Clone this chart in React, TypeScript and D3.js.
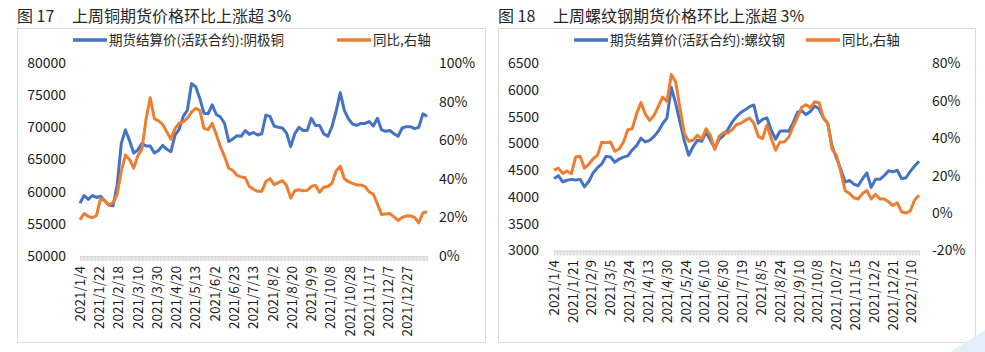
import * as d3 from 'd3';
import { useEffect, useRef } from 'react';

// x axis labels (category axis of trading days)
const copperTickLabels = [
    '2021/1/4', '2021/1/22', '2021/2/18', '2021/3/10', '2021/3/30', '2021/4/20',
    '2021/5/13', '2021/6/2', '2021/6/23', '2021/7/13', '2021/8/2', '2021/8/20',
    '2021/9/9', '2021/10/8', '2021/10/28', '2021/11/17', '2021/12/7', '2021/12/27'
];
const rebarTickLabels = [
    '2021/1/4', '2021/1/21', '2021/2/9', '2021/3/5', '2021/3/24', '2021/4/13',
    '2021/4/30', '2021/5/24', '2021/6/10', '2021/6/30', '2021/7/19', '2021/8/5',
    '2021/8/24', '2021/9/10', '2021/10/8', '2021/10/27', '2021/11/15', '2021/12/2',
    '2021/12/21', '2022/1/10'
];

// readings every 3 trading days, from 2021/1/4
const copperPrice = [
    58200, 59400, 58800, 59400, 59100, 59300, 58600, 57900, 57800, 61000,
    67500, 69600, 67900, 66000, 66500, 67500, 67100, 67100, 66000, 66400,
    67200, 66600, 66200, 68800, 69700, 71700, 72700, 76800, 76300, 74500,
    72200, 72100, 73500, 72000, 71600, 70600, 67800, 68200, 68700, 68600,
    69500, 68900, 69200, 68800, 69000, 71900, 71700, 70200, 70000, 69900,
    69100, 67000, 69000, 70000, 69500, 69500, 71400, 70300, 70300, 69000,
    68600, 70100, 72500, 75400, 72600, 71300, 70500, 70300, 70600, 70600,
    70900, 70200, 71400, 69600, 69400, 69500, 69000, 68600, 69900, 70100,
    70100, 69800, 70000, 72100, 71700
];
const copperYoY = [
    18.7, 22.0, 20.5, 19.8, 21.0, 30.0, 28.5, 26.5, 27.5, 32.0,
    44.0, 52.3, 50.0, 45.5, 52.0, 55.5, 71.0, 82.0, 71.2, 70.0,
    68.2, 64.3, 60.5, 66.0, 68.8, 69.5, 71.5, 74.5, 76.5, 75.5,
    66.2, 65.5, 68.8, 63.0, 56.5, 51.5, 45.5, 44.3, 41.8, 41.0,
    40.5, 36.0, 34.6, 33.5, 33.5, 38.6, 40.1, 37.0, 38.0, 39.0,
    36.5, 30.0, 33.8, 34.3, 33.8, 34.0, 36.0, 36.6, 33.0, 35.6,
    36.0, 37.7, 44.0, 46.5, 40.0, 38.5, 37.6, 36.8, 36.8, 35.9,
    33.2, 32.0, 27.0, 21.5, 21.8, 22.0, 20.3, 18.4, 20.0, 20.7,
    20.8, 20.0, 17.2, 22.3, 22.9
];
const rebarPrice = [
    4344, 4400, 4285, 4313, 4330, 4320, 4330, 4190, 4290, 4450,
    4550, 4620, 4760, 4750, 4650, 4710, 4745, 4770, 4880, 4960,
    5100, 5030, 5060, 5130, 5230, 5370, 5480, 6050, 5750, 5400,
    5050, 4780, 4940, 5060, 5040, 5210, 5060, 4910, 5080, 5150,
    5260, 5400, 5500, 5580, 5630, 5690, 5720, 5380, 5450, 5480,
    5250, 5080, 5230, 5240, 5230, 5380, 5580, 5610, 5540, 5600,
    5700, 5650, 5480, 5380, 4950, 4730, 4520, 4280, 4310, 4240,
    4210, 4340, 4450, 4180, 4330, 4330, 4400, 4490, 4470, 4500,
    4340, 4360, 4480, 4580, 4670
];
const rebarYoY = [
    22.9, 24.0, 21.2, 22.5, 21.0, 30.0, 30.3, 24.0, 26.0, 29.0,
    30.8, 37.8, 37.6, 38.0, 33.0, 34.2, 38.0, 44.5, 45.0, 53.0,
    59.0, 53.0, 49.5, 52.0, 57.0, 62.0, 59.6, 74.0, 70.0, 56.0,
    42.5, 38.4, 38.9, 41.5, 39.5, 45.0, 41.5, 34.0, 41.0, 43.0,
    42.8, 44.5, 47.3, 48.0, 49.5, 50.8, 48.0, 41.0, 39.8, 47.0,
    39.8, 33.6, 38.0, 38.0, 40.5, 46.0, 51.0, 56.5, 57.9, 56.3,
    59.5, 59.0, 50.8, 48.0, 34.2, 30.8, 22.0, 12.0, 10.5, 8.2,
    7.5, 10.4, 12.0, 7.5, 10.0, 7.5, 7.5, 6.0, 4.0, 5.5,
    0.6, 0.0, 1.2, 7.0, 9.5
];

const SAMPLE_STEP = 3;
const LAST_INDEX = 252;
const BLUE = '#4472C4';
const ORANGE = '#ED7D31';
const FONT = "'Noto Sans CJK SC', 'Noto Sans', sans-serif";

interface PanelConfig {
    figNo: string;
    title: string;
    priceName: string;
    price: number[];
    yoy: number[];
    tickLabels: string[];
    labelStep: number;
    priceDomain: [number, number];
    priceTicks: number[];
    pctDomain: [number, number];
    pctTicks: number[];
    box: { x: number; y: number; w: number; h: number };
    plot: { x0: number; x1: number; yTop: number; yBottom: number };
    leftLabelX: number;
    rightLabelX: number;
    xLabelTop: number;
    titleX: number;
    legend: { blue: number; orange: number };
}

const panels: PanelConfig[] = [
    {
        figNo: '图 17',
        title: '上周铜期货价格环比上涨超 3%',
        priceName: '期货结算价(活跃合约):阴极铜',
        price: copperPrice,
        yoy: copperYoY,
        tickLabels: copperTickLabels,
        labelStep: 14,
        priceDomain: [50000, 80000],
        priceTicks: [50000, 55000, 60000, 65000, 70000, 75000, 80000],
        pctDomain: [0, 100],
        pctTicks: [0, 20, 40, 60, 80, 100],
        box: { x: 17, y: 28, w: 468, h: 314 },
        plot: { x0: 80, x1: 427, yTop: 63, yBottom: 256 },
        leftLabelX: 66,
        rightLabelX: 439,
        xLabelTop: 266,
        titleX: 72,
        legend: { blue: 73, orange: 337 }
    },
    {
        figNo: '图 18',
        title: '上周螺纹钢期货价格环比上涨超 3%',
        priceName: '期货结算价(活跃合约):螺纹钢',
        price: rebarPrice,
        yoy: rebarYoY,
        tickLabels: rebarTickLabels,
        labelStep: 13,
        priceDomain: [3000, 6500],
        priceTicks: [3000, 3500, 4000, 4500, 5000, 5500, 6000, 6500],
        pctDomain: [-20, 80],
        pctTicks: [-20, 0, 20, 40, 60, 80],
        box: { x: 498, y: 28, w: 477, h: 314 },
        plot: { x0: 554, x1: 919, yTop: 63.3, yBottom: 250.5 },
        leftLabelX: 539,
        rightLabelX: 932,
        xLabelTop: 260,
        titleX: 553,
        legend: { blue: 574, orange: 806 }
    }
];

function drawPanel(root: d3.Selection<SVGGElement, unknown, null, undefined>, c: PanelConfig) {
    const g = root.append('g');

    // frame
    g.append('rect')
        .attr('x', c.box.x + 0.5)
        .attr('y', c.box.y + 0.5)
        .attr('width', c.box.w)
        .attr('height', c.box.h)
        .attr('fill', '#fff')
        .attr('stroke', '#d9d9d9');

    // title
    g.append('text')
        .attr('x', c.box.x)
        .attr('y', 16)
        .attr('dy', '0.35em')
        .style('font-size', '16px')
        .attr('fill', '#262626')
        .text(c.figNo);
    g.append('text')
        .attr('x', c.titleX)
        .attr('y', 16)
        .attr('dy', '0.35em')
        .style('font-size', '16px')
        .attr('fill', '#262626')
        .text(c.title);

    // Scales
    const x = d3.scaleLinear().domain([0, LAST_INDEX]).range([c.plot.x0, c.plot.x1]);
    const yL = d3.scaleLinear().domain(c.priceDomain).range([c.plot.yBottom, c.plot.yTop]);
    const yR = d3.scaleLinear().domain(c.pctDomain).range([c.plot.yBottom, c.plot.yTop]);

    // left axis labels
    g.append('g')
        .selectAll('text')
        .data(c.priceTicks)
        .enter()
        .append('text')
        .attr('x', c.leftLabelX)
        .attr('y', (d) => yL(d))
        .attr('dy', '0.35em')
        .attr('text-anchor', 'end')
        .style('font-size', '14px')
        .attr('fill', '#1a1a1a')
        .text((d) => String(d));

    // right axis labels
    g.append('g')
        .selectAll('text')
        .data(c.pctTicks)
        .enter()
        .append('text')
        .attr('x', c.rightLabelX)
        .attr('y', (d) => yR(d))
        .attr('dy', '0.35em')
        .style('font-size', '14px')
        .attr('fill', '#1a1a1a')
        .text((d) => `${d}%`);

    // category axis: one tick per trading day -> grey band
    const axis = g.append('g')
        .attr('transform', `translate(0,${c.plot.yBottom})`)
        .call(
            d3.axisBottom(x)
                .tickValues(d3.range(0, LAST_INDEX + 1))
                .tickSize(5)
                .tickSizeOuter(0)
                .tickFormat(() => '')
        );
    axis.selectAll('line').attr('stroke', '#d9d9d9');
    axis.select('.domain').attr('stroke', '#d9d9d9');

    // x labels
    g.append('g')
        .selectAll('text')
        .data(c.tickLabels)
        .enter()
        .append('text')
        .attr('transform', (_d, i) => `translate(${x(i * c.labelStep)},${c.xLabelTop}) rotate(-90)`)
        .attr('text-anchor', 'end')
        .attr('dy', '0.35em')
        .style('font-size', '13.5px')
        .attr('fill', '#1a1a1a')
        .text((d) => d);

    // lines
    const priceLine = d3.line<number>()
        .x((_d, i) => x(i * SAMPLE_STEP))
        .y((d) => yL(d));
    const pctLine = d3.line<number>()
        .x((_d, i) => x(i * SAMPLE_STEP))
        .y((d) => yR(d));

    g.append('path')
        .datum(c.price)
        .attr('fill', 'none')
        .attr('stroke', BLUE)
        .attr('stroke-width', 3)
        .attr('stroke-linejoin', 'round')
        .attr('d', priceLine);

    g.append('path')
        .datum(c.yoy)
        .attr('fill', 'none')
        .attr('stroke', ORANGE)
        .attr('stroke-width', 3)
        .attr('stroke-linejoin', 'round')
        .attr('d', pctLine);

    // legend
    const legendY = 40;
    const items = [
        { x: c.legend.blue, color: BLUE, label: c.priceName },
        { x: c.legend.orange, color: ORANGE, label: '同比,右轴' }
    ];
    items.forEach((it) => {
        g.append('line')
            .attr('x1', it.x)
            .attr('x2', it.x + 34)
            .attr('y1', legendY)
            .attr('y2', legendY)
            .attr('stroke', it.color)
            .attr('stroke-width', 3.5);
        g.append('text')
            .attr('x', it.x + 36)
            .attr('y', legendY)
            .attr('dy', '0.35em')
            .style('font-size', '13.5px')
            .attr('fill', '#262626')
            .text(it.label);
    });
}

const App = () => {
    const gRef = useRef<SVGGElement>(null);

    useEffect(() => {
        const root = d3.select(gRef.current);
        root.selectAll('*').remove();
        panels.forEach((p) => drawPanel(root as any, p));
    }, []);

    return (
        <svg
            width={985}
            height={352}
            style={{ position: 'absolute', left: 0, top: 0, background: '#fff', fontFamily: FONT }}
        >
            <rect width={985} height={352} fill="#fff" />
            <g ref={gRef}></g>
            <path d="M950,352 L985,330 L985,352 Z" fill="#e3eef9" />
        </svg>
    );
};

export default App;
